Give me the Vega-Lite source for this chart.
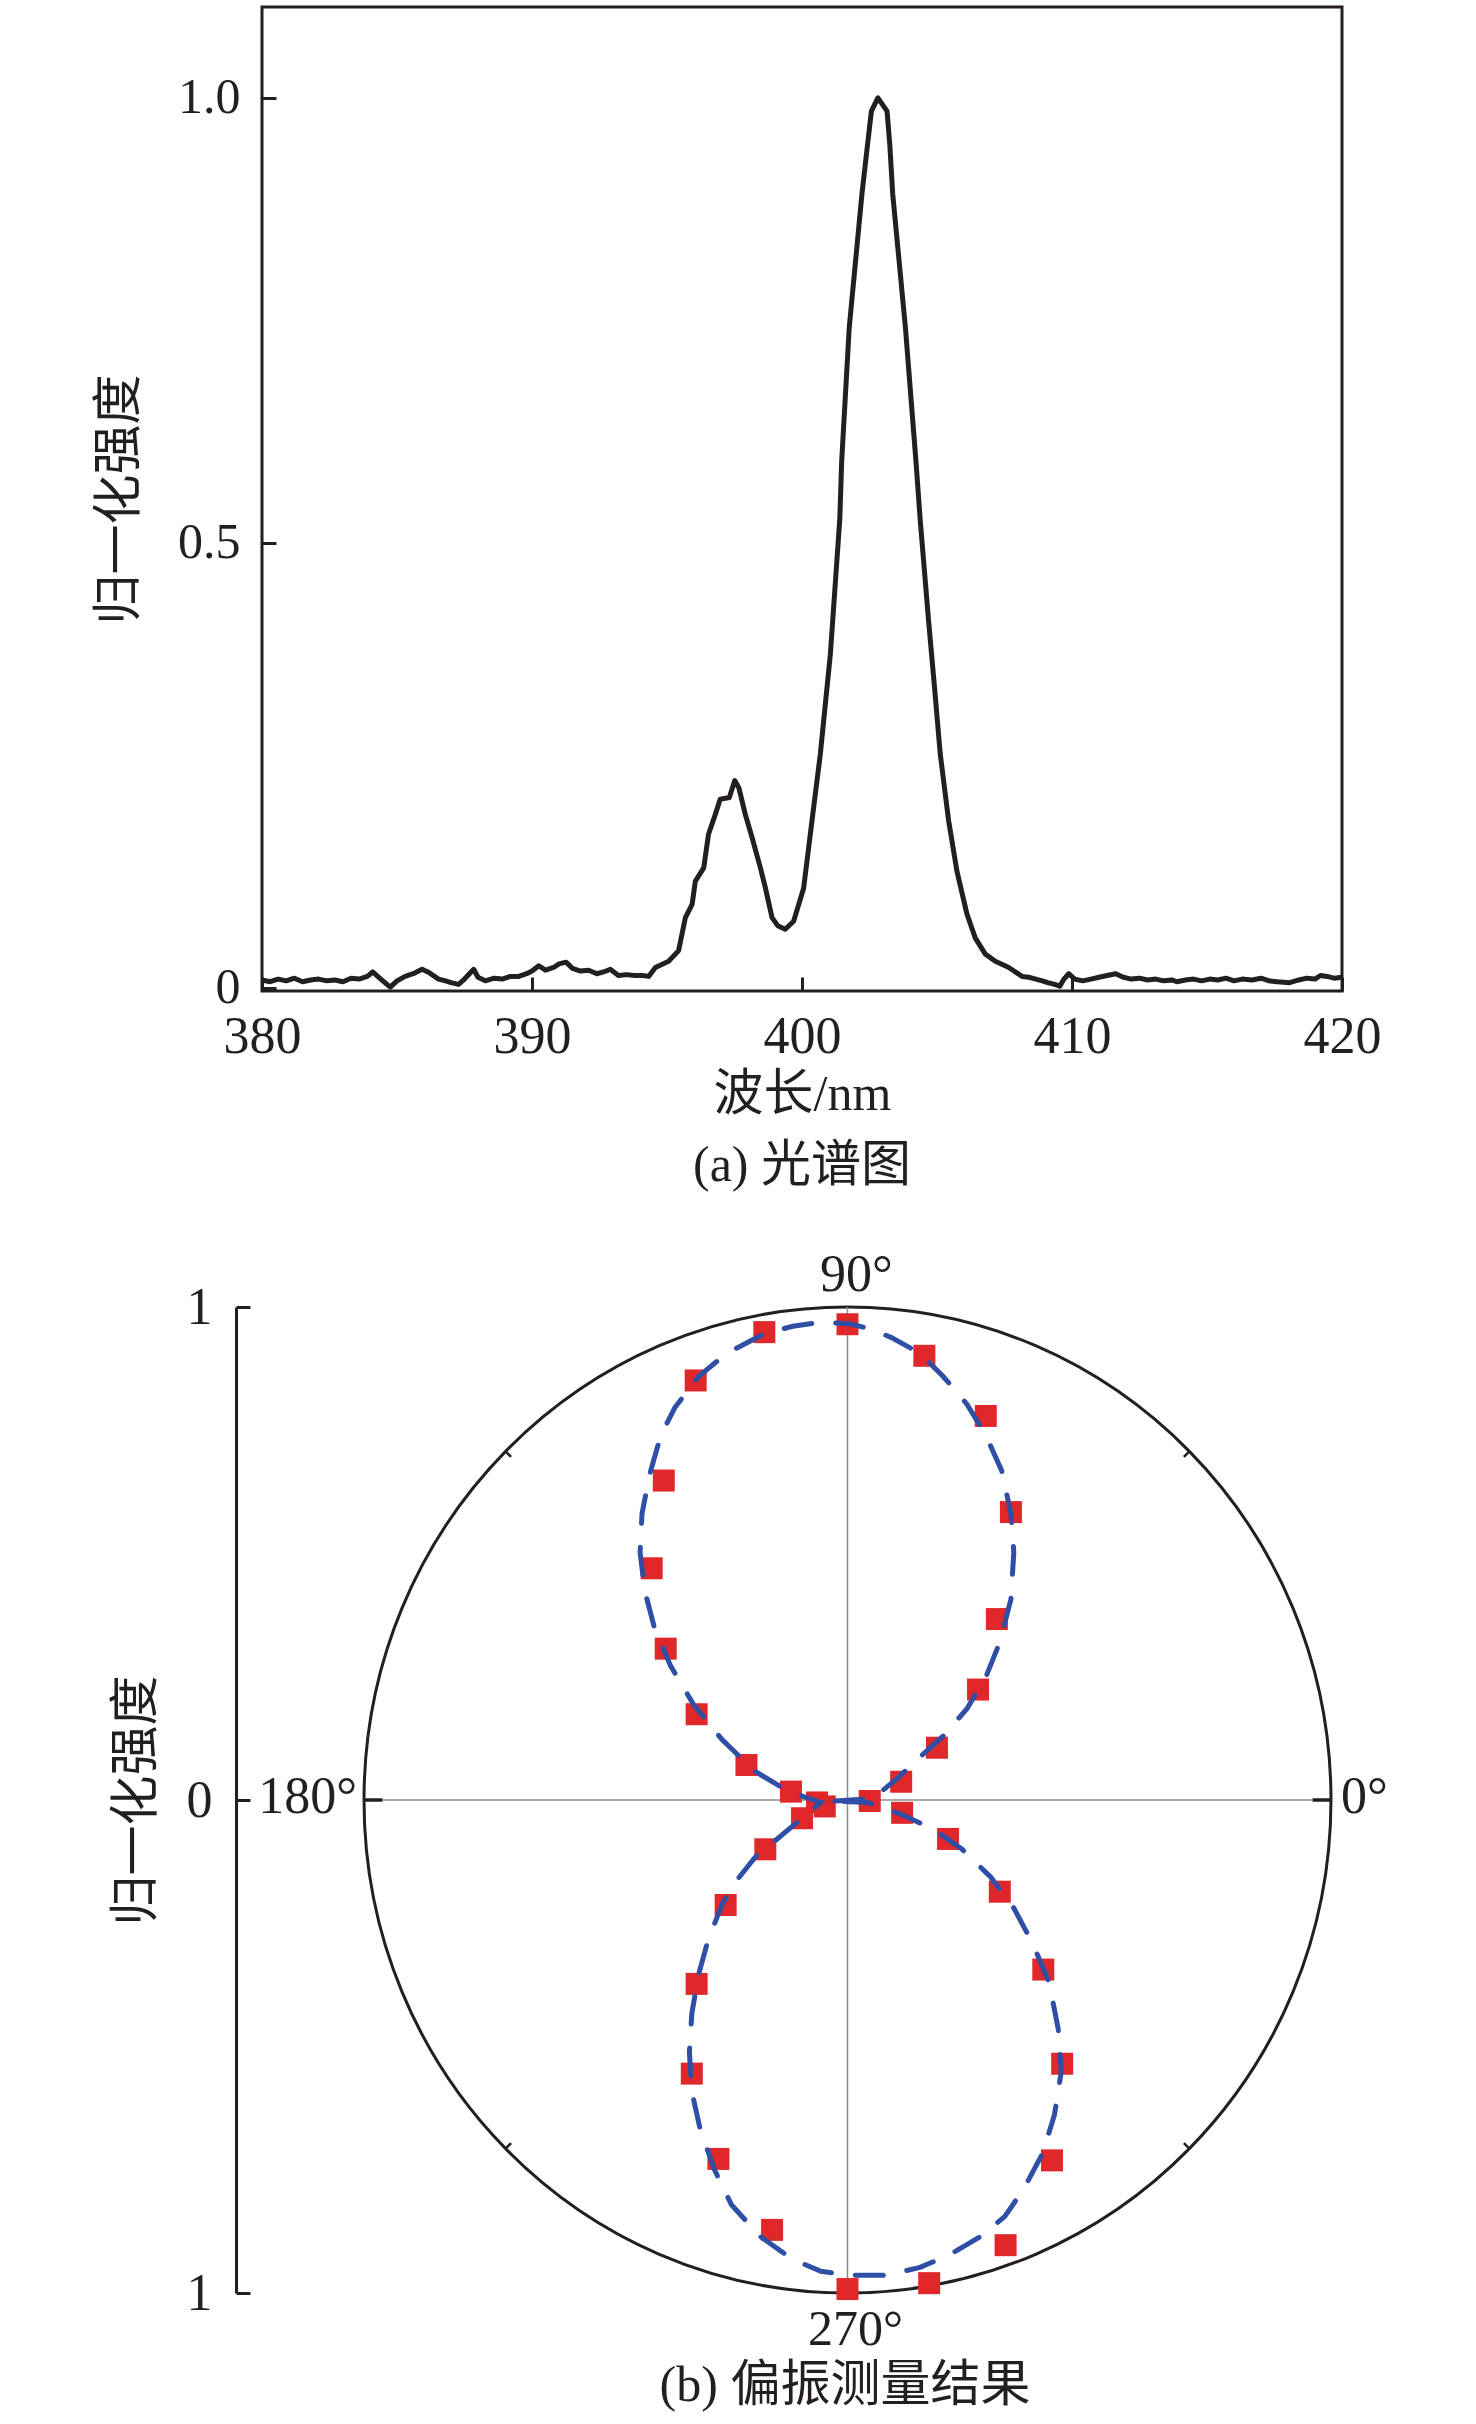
{
  "$schema": "https://vega.github.io/schema/vega-lite/v6.json",
  "padding": {"left": 92, "top": 5, "right": 10, "bottom": 5},
  "background": "white",
  "spacing": 56,
  "vconcat": [
    {
      "width": 1080,
      "height": 984,
      "view": {"stroke": "#231f20", "strokeWidth": 3},
      "title": {"text": "(a) 光谱图", "orient": "bottom", "offset": 22},
      "data": {"values": [
        {"w": 380.0, "v": 0.009}, {"w": 380.3, "v": 0.007}, {"w": 380.6, "v": 0.010}, {"w": 380.9, "v": 0.008},
        {"w": 381.2, "v": 0.011}, {"w": 381.5, "v": 0.007}, {"w": 381.8, "v": 0.009}, {"w": 382.1, "v": 0.010},
        {"w": 382.4, "v": 0.008}, {"w": 382.7, "v": 0.009}, {"w": 383.0, "v": 0.007}, {"w": 383.3, "v": 0.011},
        {"w": 383.6, "v": 0.010}, {"w": 383.9, "v": 0.013}, {"w": 384.1, "v": 0.018}, {"w": 384.4, "v": 0.010},
        {"w": 384.75, "v": 0.001}, {"w": 385.0, "v": 0.008}, {"w": 385.3, "v": 0.013}, {"w": 385.6, "v": 0.016},
        {"w": 385.93, "v": 0.021}, {"w": 386.2, "v": 0.017}, {"w": 386.54, "v": 0.010}, {"w": 386.8, "v": 0.008},
        {"w": 387.0, "v": 0.006}, {"w": 387.28, "v": 0.004}, {"w": 387.5, "v": 0.010}, {"w": 387.84, "v": 0.021},
        {"w": 388.0, "v": 0.012}, {"w": 388.27, "v": 0.008}, {"w": 388.6, "v": 0.011}, {"w": 388.9, "v": 0.010},
        {"w": 389.2, "v": 0.013}, {"w": 389.51, "v": 0.013}, {"w": 389.8, "v": 0.016}, {"w": 390.0, "v": 0.019},
        {"w": 390.25, "v": 0.025}, {"w": 390.5, "v": 0.020}, {"w": 390.8, "v": 0.023}, {"w": 391.0, "v": 0.027},
        {"w": 391.26, "v": 0.029}, {"w": 391.5, "v": 0.022}, {"w": 391.8, "v": 0.019}, {"w": 392.1, "v": 0.020},
        {"w": 392.4, "v": 0.016}, {"w": 392.65, "v": 0.018}, {"w": 392.9, "v": 0.021}, {"w": 393.2, "v": 0.014},
        {"w": 393.5, "v": 0.015}, {"w": 393.8, "v": 0.014}, {"w": 394.1, "v": 0.014}, {"w": 394.32, "v": 0.013},
        {"w": 394.57, "v": 0.023}, {"w": 395.06, "v": 0.030}, {"w": 395.43, "v": 0.042}, {"w": 395.68, "v": 0.079},
        {"w": 395.93, "v": 0.094}, {"w": 396.05, "v": 0.120}, {"w": 396.36, "v": 0.135}, {"w": 396.54, "v": 0.173},
        {"w": 396.79, "v": 0.195}, {"w": 396.97, "v": 0.212}, {"w": 397.31, "v": 0.214}, {"w": 397.51, "v": 0.233},
        {"w": 397.66, "v": 0.225}, {"w": 397.90, "v": 0.195}, {"w": 398.15, "v": 0.169}, {"w": 398.46, "v": 0.135},
        {"w": 398.64, "v": 0.113}, {"w": 398.89, "v": 0.079}, {"w": 399.1, "v": 0.070}, {"w": 399.38, "v": 0.066},
        {"w": 399.69, "v": 0.075}, {"w": 400.06, "v": 0.112}, {"w": 400.37, "v": 0.188}, {"w": 400.68, "v": 0.263},
        {"w": 401.05, "v": 0.375}, {"w": 401.40, "v": 0.527}, {"w": 401.47, "v": 0.592}, {"w": 401.75, "v": 0.742},
        {"w": 402.22, "v": 0.892}, {"w": 402.43, "v": 0.948}, {"w": 402.57, "v": 0.985}, {"w": 402.81, "v": 1.000},
        {"w": 403.15, "v": 0.985}, {"w": 403.25, "v": 0.948}, {"w": 403.36, "v": 0.892}, {"w": 403.83, "v": 0.742},
        {"w": 404.22, "v": 0.592}, {"w": 404.38, "v": 0.525}, {"w": 404.69, "v": 0.412}, {"w": 404.91, "v": 0.337},
        {"w": 405.12, "v": 0.263}, {"w": 405.43, "v": 0.188}, {"w": 405.74, "v": 0.131}, {"w": 406.11, "v": 0.083},
        {"w": 406.42, "v": 0.056}, {"w": 406.79, "v": 0.038}, {"w": 407.16, "v": 0.030}, {"w": 407.66, "v": 0.023},
        {"w": 408.15, "v": 0.013}, {"w": 408.4, "v": 0.012}, {"w": 408.66, "v": 0.010}, {"w": 408.9, "v": 0.008},
        {"w": 409.1, "v": 0.006}, {"w": 409.36, "v": 0.004}, {"w": 409.55, "v": 0.002}, {"w": 409.7, "v": 0.010},
        {"w": 409.88, "v": 0.016}, {"w": 410.1, "v": 0.010}, {"w": 410.4, "v": 0.008}, {"w": 410.7, "v": 0.010},
        {"w": 411.0, "v": 0.012}, {"w": 411.3, "v": 0.014}, {"w": 411.62, "v": 0.016}, {"w": 411.9, "v": 0.012},
        {"w": 412.2, "v": 0.010}, {"w": 412.5, "v": 0.011}, {"w": 412.8, "v": 0.009}, {"w": 413.1, "v": 0.010},
        {"w": 413.4, "v": 0.008}, {"w": 413.7, "v": 0.009}, {"w": 413.88, "v": 0.007}, {"w": 414.2, "v": 0.009},
        {"w": 414.5, "v": 0.010}, {"w": 414.8, "v": 0.008}, {"w": 415.1, "v": 0.010}, {"w": 415.4, "v": 0.009},
        {"w": 415.7, "v": 0.011}, {"w": 416.0, "v": 0.008}, {"w": 416.3, "v": 0.010}, {"w": 416.67, "v": 0.009},
        {"w": 417.0, "v": 0.011}, {"w": 417.3, "v": 0.008}, {"w": 417.6, "v": 0.007}, {"w": 418.06, "v": 0.006},
        {"w": 418.4, "v": 0.009}, {"w": 418.7, "v": 0.011}, {"w": 419.0, "v": 0.010}, {"w": 419.2, "v": 0.014},
        {"w": 419.45, "v": 0.013}, {"w": 419.7, "v": 0.011}, {"w": 420.0, "v": 0.012}
      ]},
      "mark": {"type": "line", "color": "#231f20", "strokeWidth": 5, "strokeJoin": "round"},
      "encoding": {
        "x": {
          "field": "w", "type": "quantitative",
          "scale": {"domain": [380, 420], "nice": false, "zero": false},
          "axis": {
            "values": [380, 390, 400, 410, 420], "format": "d",
            "title": "波长/nm", "titleY": 118, "titleBaseline": "alphabetic",
            "labelPadding": 34
          }
        },
        "y": {
          "field": "v", "type": "quantitative",
          "scale": {"domain": [-0.0034, 1.102], "nice": false, "zero": false},
          "axis": {
            "values": [0, 0.5, 1],
            "labelExpr": "datum.value == 0 ? '0' : format(datum.value, '.1f')",
            "title": "归一化强度", "titleX": -143, "titleY": 492,
            "titleAngle": -90, "titleBaseline": "middle", "titleAlign": "center",
            "labelPadding": 36, "labelFontSize": 50
          }
        }
      }
    },
    {
      "width": 1080,
      "height": 986,
      "view": {"stroke": null},
      "title": {"text": "(b) 偏振测量结果", "orient": "bottom", "offset": 6, "dx": 43},
      "encoding": {
        "x": {"field": "x", "type": "quantitative", "scale": {"domain": [-1.211, 1.0228], "nice": false, "zero": false}, "axis": null},
        "y": {
          "field": "y", "type": "quantitative",
          "scale": {"domain": [-1, 1], "nice": false, "zero": false},
          "axis": {
            "values": [-1, 0, 1],
            "labelExpr": "format(abs(datum.value), 'd')",
            "offset": 26, "domain": true, "domainColor": "#231f20", "domainWidth": 3,
            "title": "归一化强度", "titleX": -100, "titleY": 493,
            "titleAngle": -90, "titleBaseline": "middle", "titleAlign": "center",
            "labelPadding": 38
          }
        }
      },
      "layer": [
        {
          "data": {"values": [{"x": 0, "y": 0}]},
          "mark": {
            "type": "point", "filled": false, "opacity": 1, "color": "#231f20", "strokeWidth": 3,
            "size": 972196,
            "shape": "M0.9807,0 C0.9807,0.5523 0.5416,1 0,1 C-0.5416,1 -0.9807,0.5523 -0.9807,0 C-0.9807,-0.5523 -0.5416,-1 0,-1 C0.5416,-1 0.9807,-0.5523 0.9807,0 Z"
          }
        },
        {
          "data": {"values": [
            {"x": -1, "y": 0, "x2": 1, "y2": 0},
            {"x": 0, "y": -1, "x2": 0, "y2": 1}
          ]},
          "mark": {"type": "rule", "color": "#8c8c8c", "strokeWidth": 1.5},
          "encoding": {"x2": {"field": "x2"}, "y2": {"field": "y2"}}
        },
        {
          "data": {"values": [
            {"x": 1, "y": 0, "x2": 0.962, "y2": 0},
            {"x": -1, "y": 0, "x2": -0.962, "y2": 0}
          ]},
          "mark": {"type": "rule", "color": "#231f20", "strokeWidth": 3.5},
          "encoding": {"x2": {"field": "x2"}, "y2": {"field": "y2"}}
        },
        {
          "data": {"values": [
            {"x": 0.7071, "y": 0.7071, "x2": 0.6958, "y2": 0.6958},
            {"x": -0.7071, "y": 0.7071, "x2": -0.6958, "y2": 0.6958},
            {"x": -0.7071, "y": -0.7071, "x2": -0.6958, "y2": -0.6958},
            {"x": 0.7071, "y": -0.7071, "x2": 0.6958, "y2": -0.6958}
          ]},
          "mark": {"type": "rule", "color": "#231f20", "strokeWidth": 2.5},
          "encoding": {"x2": {"field": "x2"}, "y2": {"field": "y2"}}
        },
        {
          "data": {"values": [
            {"x": 0.000, "y": 0.965}, {"x": 0.159, "y": 0.901}, {"x": 0.286, "y": 0.779}, {"x": 0.338, "y": 0.584},
            {"x": 0.309, "y": 0.367}, {"x": 0.270, "y": 0.224}, {"x": 0.185, "y": 0.106}, {"x": 0.111, "y": 0.037},
            {"x": 0.046, "y": -0.002}, {"x": 0.113, "y": -0.026}, {"x": 0.208, "y": -0.079}, {"x": 0.315, "y": -0.186},
            {"x": 0.405, "y": -0.344}, {"x": 0.444, "y": -0.535}, {"x": 0.423, "y": -0.731}, {"x": 0.327, "y": -0.903},
            {"x": 0.169, "y": -0.980}, {"x": 0.000, "y": -0.992}, {"x": -0.172, "y": 0.949}, {"x": -0.314, "y": 0.851},
            {"x": -0.380, "y": 0.648}, {"x": -0.405, "y": 0.470}, {"x": -0.376, "y": 0.307}, {"x": -0.312, "y": 0.174},
            {"x": -0.209, "y": 0.071}, {"x": -0.117, "y": 0.017}, {"x": -0.063, "y": -0.005}, {"x": -0.047, "y": -0.013},
            {"x": -0.094, "y": -0.037}, {"x": -0.170, "y": -0.100}, {"x": -0.252, "y": -0.213}, {"x": -0.312, "y": -0.373},
            {"x": -0.322, "y": -0.555}, {"x": -0.267, "y": -0.728}, {"x": -0.156, "y": -0.872}
          ]},
          "mark": {"type": "point", "shape": "square", "filled": true, "opacity": 1, "color": "#e0282a", "size": 484}
        },
        {
          "data": {"values": [
            {"i": 1, "x": -0.026, "y": -0.002}, {"i": 2, "x": 0.052, "y": 0.003}, {"i": 3, "x": 0.101, "y": 0.042},
            {"i": 4, "x": 0.150, "y": 0.087}, {"i": 5, "x": 0.198, "y": 0.130}, {"i": 6, "x": 0.247, "y": 0.185},
            {"i": 7, "x": 0.286, "y": 0.249}, {"i": 8, "x": 0.315, "y": 0.320}, {"i": 9, "x": 0.338, "y": 0.407},
            {"i": 10, "x": 0.344, "y": 0.502}, {"i": 11, "x": 0.338, "y": 0.581}, {"i": 12, "x": 0.319, "y": 0.668},
            {"i": 13, "x": 0.286, "y": 0.740}, {"i": 14, "x": 0.247, "y": 0.803}, {"i": 15, "x": 0.198, "y": 0.859},
            {"i": 16, "x": 0.150, "y": 0.906}, {"i": 17, "x": 0.091, "y": 0.938}, {"i": 18, "x": 0.042, "y": 0.957},
            {"i": 19, "x": 0.004, "y": 0.966}, {"i": 20, "x": -0.055, "y": 0.969}, {"i": 21, "x": -0.113, "y": 0.961},
            {"i": 22, "x": -0.172, "y": 0.946}, {"i": 23, "x": -0.250, "y": 0.906}, {"i": 24, "x": -0.308, "y": 0.859},
            {"i": 25, "x": -0.357, "y": 0.796}, {"i": 26, "x": -0.386, "y": 0.740}, {"i": 27, "x": -0.409, "y": 0.661},
            {"i": 28, "x": -0.425, "y": 0.581}, {"i": 29, "x": -0.429, "y": 0.502}, {"i": 30, "x": -0.419, "y": 0.423},
            {"i": 31, "x": -0.400, "y": 0.352}, {"i": 32, "x": -0.366, "y": 0.272}, {"i": 33, "x": -0.318, "y": 0.193},
            {"i": 34, "x": -0.259, "y": 0.122}, {"i": 35, "x": -0.191, "y": 0.058}, {"i": 36, "x": -0.123, "y": 0.018},
            {"i": 37, "x": -0.055, "y": -0.005}, {"i": 38, "x": -0.094, "y": -0.037}, {"i": 39, "x": -0.143, "y": -0.077},
            {"i": 40, "x": -0.191, "y": -0.116}, {"i": 41, "x": -0.230, "y": -0.164}, {"i": 42, "x": -0.259, "y": -0.211},
            {"i": 43, "x": -0.288, "y": -0.283}, {"i": 44, "x": -0.308, "y": -0.354}, {"i": 45, "x": -0.322, "y": -0.433},
            {"i": 46, "x": -0.327, "y": -0.512}, {"i": 47, "x": -0.322, "y": -0.591}, {"i": 48, "x": -0.304, "y": -0.671},
            {"i": 49, "x": -0.275, "y": -0.750}, {"i": 50, "x": -0.240, "y": -0.821}, {"i": 51, "x": -0.181, "y": -0.885},
            {"i": 52, "x": -0.113, "y": -0.932}, {"i": 53, "x": -0.055, "y": -0.956}, {"i": 54, "x": 0.004, "y": -0.964},
            {"i": 55, "x": 0.081, "y": -0.964}, {"i": 56, "x": 0.150, "y": -0.948}, {"i": 57, "x": 0.208, "y": -0.924},
            {"i": 58, "x": 0.276, "y": -0.885}, {"i": 59, "x": 0.325, "y": -0.845}, {"i": 60, "x": 0.364, "y": -0.790},
            {"i": 61, "x": 0.403, "y": -0.718}, {"i": 62, "x": 0.428, "y": -0.639}, {"i": 63, "x": 0.442, "y": -0.552},
            {"i": 64, "x": 0.436, "y": -0.465}, {"i": 65, "x": 0.417, "y": -0.370}, {"i": 66, "x": 0.383, "y": -0.291},
            {"i": 67, "x": 0.344, "y": -0.219}, {"i": 68, "x": 0.296, "y": -0.156}, {"i": 69, "x": 0.237, "y": -0.100},
            {"i": 70, "x": 0.179, "y": -0.060}, {"i": 71, "x": 0.111, "y": -0.029}, {"i": 72, "x": 0.042, "y": -0.005},
            {"i": 73, "x": -0.026, "y": -0.002}
          ]},
          "mark": {"type": "line", "color": "#2f4fa6", "strokeWidth": 5, "strokeDash": [28, 24], "strokeCap": "round"},
          "encoding": {"order": {"field": "i", "type": "quantitative"}}
        },
        {
          "data": {"values": [{"x": 0, "y": 1, "t": "90°"}]},
          "mark": {"type": "text", "align": "center", "baseline": "alphabetic", "dx": 9, "dy": -16},
          "encoding": {"text": {"field": "t"}}
        },
        {
          "data": {"values": [{"x": 0, "y": -1, "t": "270°"}]},
          "mark": {"type": "text", "align": "center", "baseline": "alphabetic", "dx": 8, "dy": 52, "fontSize": 50},
          "encoding": {"text": {"field": "t"}}
        },
        {
          "data": {"values": [{"x": 1, "y": 0, "t": "0°"}]},
          "mark": {"type": "text", "align": "left", "baseline": "middle", "dx": 10, "dy": -3},
          "encoding": {"text": {"field": "t"}}
        },
        {
          "data": {"values": [{"x": -1, "y": 0, "t": "180°"}]},
          "mark": {"type": "text", "align": "right", "baseline": "middle", "dx": -7, "dy": -3},
          "encoding": {"text": {"field": "t"}}
        }
      ]
    }
  ],
  "config": {
    "view": {"stroke": null},
    "font": "Liberation Serif, Noto Sans CJK SC",
    "text": {"font": "Liberation Serif, Noto Sans CJK SC", "fontSize": 52, "color": "#231f20"},
    "title": {"font": "Liberation Serif, Noto Sans CJK SC", "fontSize": 50, "fontWeight": "normal", "color": "#231f20", "anchor": "middle"},
    "axis": {
      "grid": false, "domain": false, "labelFlush": false, "labelOverlap": false,
      "tickSize": -14, "tickWidth": 3, "tickColor": "#231f20",
      "labelFont": "Liberation Serif", "labelFontSize": 52, "labelColor": "#231f20",
      "titleFont": "Liberation Serif, Noto Sans CJK SC", "titleFontSize": 50, "titleFontWeight": "normal", "titleColor": "#231f20"
    }
  }
}
